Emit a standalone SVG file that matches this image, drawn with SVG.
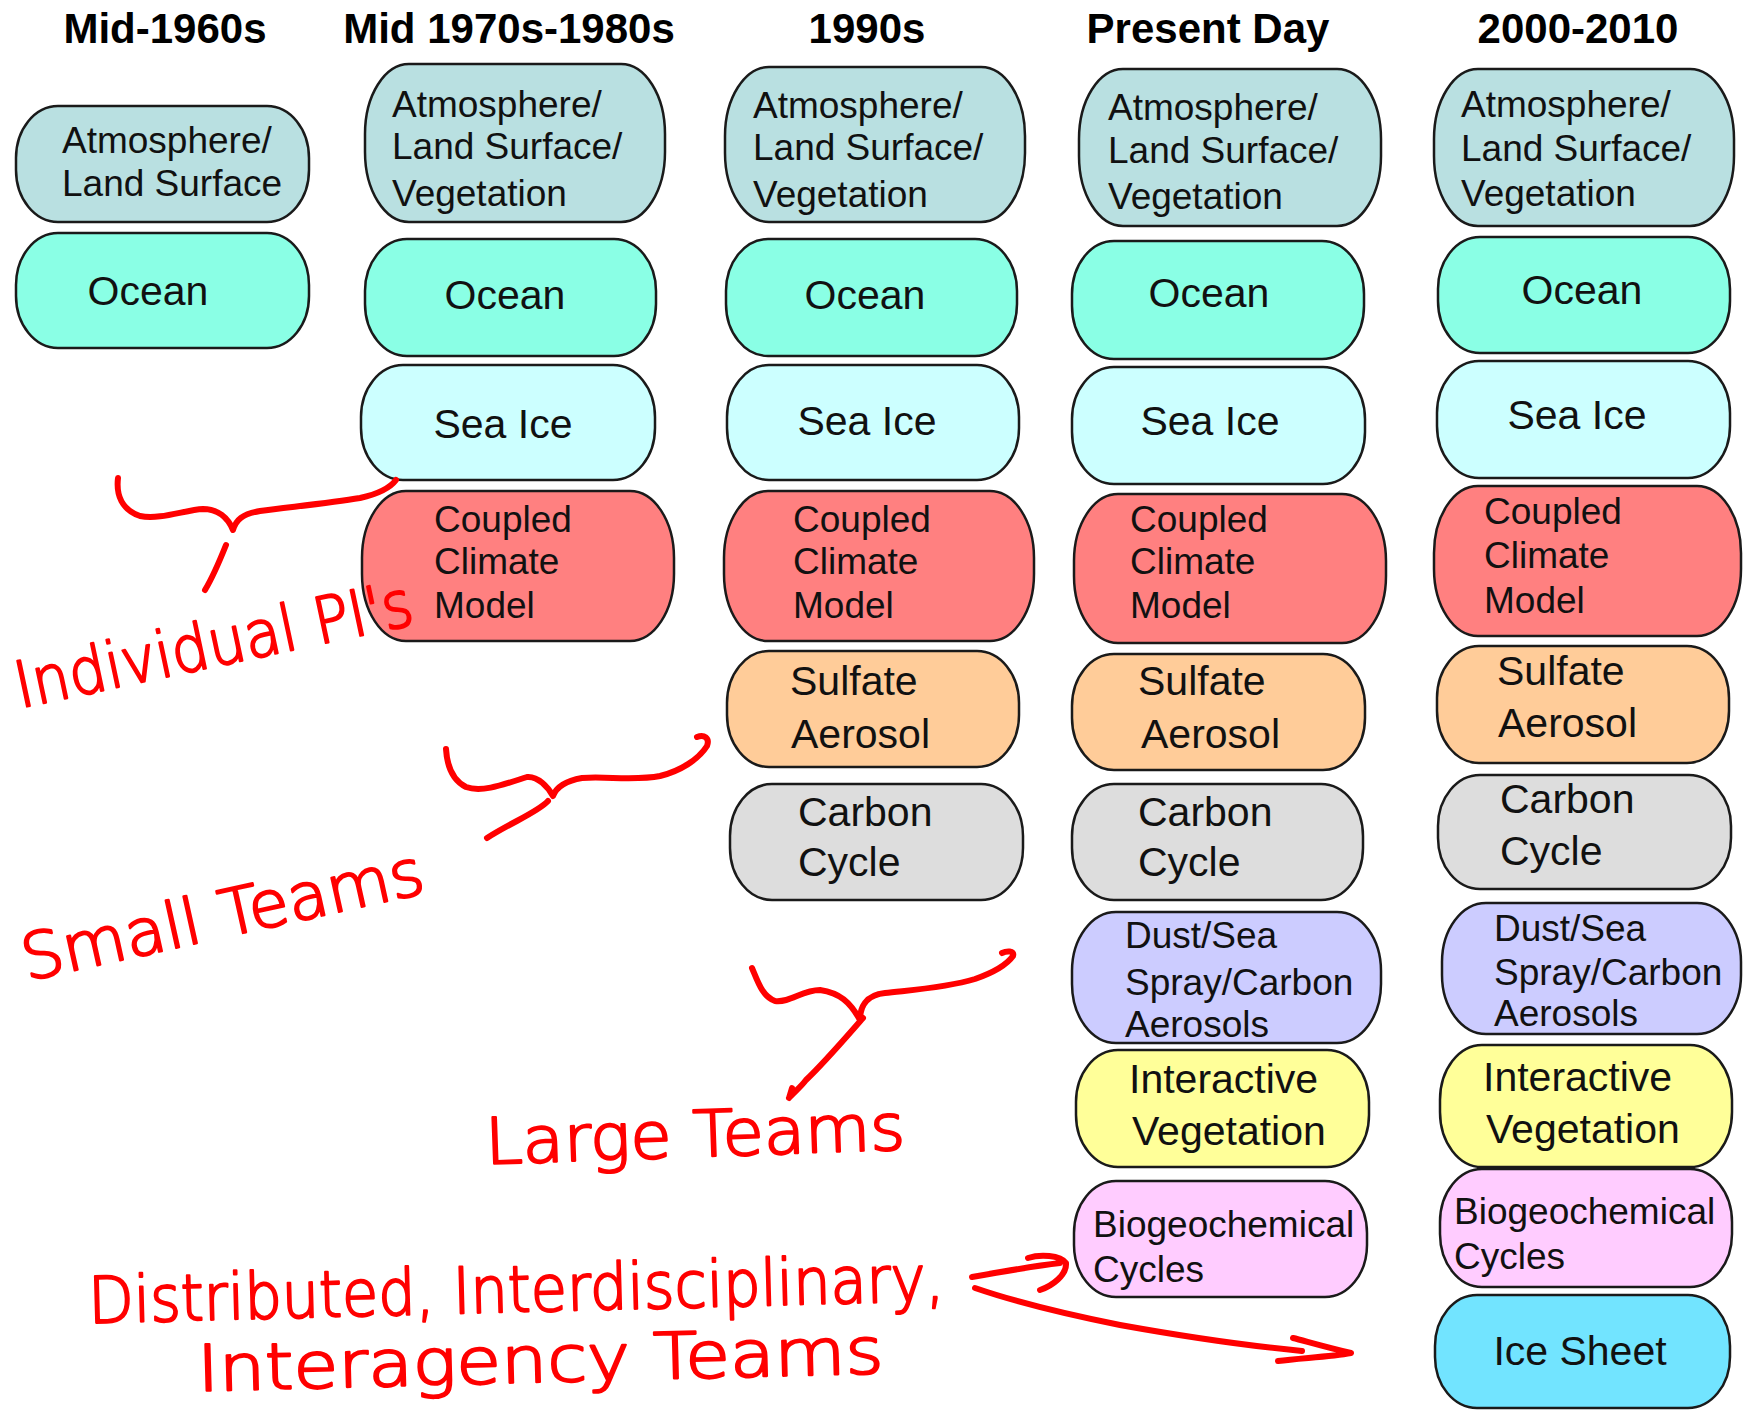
<svg xmlns="http://www.w3.org/2000/svg" width="1743" height="1411" viewBox="0 0 1743 1411">
  <style>
    .title { font-family: "Liberation Sans", Arial, sans-serif; font-weight: bold; font-size: 42px; fill: #000; text-anchor: middle; }
    .box { stroke: #1a1a1a; stroke-width: 2.5; }
    .lbl { font-family: "Liberation Sans", Arial, sans-serif; font-size: 37px; fill: #111; }
    .big { font-family: "Liberation Sans", Arial, sans-serif; font-size: 41px; fill: #111; }
    .mid { text-anchor: middle; }
    .atmos { fill: #B9E0E1; }
    .ocean { fill: #8AFFE5; }
    .seaice { fill: #CCFFFF; }
    .ccm { fill: #FF8080; }
    .sulfate { fill: #FFCC99; }
    .carbon { fill: #DDDDDD; }
    .dust { fill: #CCCCFF; }
    .veg { fill: #FFFF99; }
    .bio { fill: #FFCCFF; }
    .ice { fill: #72E4FF; }
    .ink { fill: none; stroke: #FF0000; stroke-width: 6; stroke-linecap: round; stroke-linejoin: round; }
    .hand { font-family: "DejaVu Sans", "Liberation Sans", sans-serif; font-weight: 200; font-size: 64px; fill: #FF0000; stroke: #FF0000; stroke-width: 2.2; stroke-linejoin: round; }
  </style>

  <rect width="1743" height="1411" fill="#FFFFFF"/>

  <!-- column headings -->
  <g id="headings">
    <text class="title" x="165" y="43">Mid-1960s</text>
    <text class="title" x="509" y="43">Mid 1970s-1980s</text>
    <text class="title" x="867" y="43">1990s</text>
    <text class="title" x="1208" y="43">Present Day</text>
    <text class="title" x="1578" y="43">2000-2010</text>
  </g>

  <!-- Mid-1960s -->
  <g id="c1-atmos">
    <rect class="box atmos" x="16" y="106" width="293" height="116" rx="42" ry="52"/>
    <text class="lbl" x="62" y="153">Atmosphere/</text>
    <text class="lbl" x="62" y="196">Land Surface</text>
  </g>
  <g id="c1-ocean">
    <rect class="box ocean" x="16" y="233" width="293" height="115" rx="42" ry="52"/>
    <text class="big mid" x="148" y="305">Ocean</text>
  </g>

  <!-- Mid 1970s-1980s -->
  <g id="c2-atmos">
    <rect class="box atmos" x="365" y="64" width="300" height="158" rx="44" ry="70"/>
    <text class="lbl" x="392" y="117">Atmosphere/</text>
    <text class="lbl" x="392" y="159">Land Surface/</text>
    <text class="lbl" x="392" y="206">Vegetation</text>
  </g>
  <g id="c2-ocean">
    <rect class="box ocean" x="365" y="239" width="291" height="117" rx="42" ry="52"/>
    <text class="big mid" x="505" y="309">Ocean</text>
  </g>
  <g id="c2-seaice">
    <rect class="box seaice" x="361" y="365" width="294" height="115" rx="42" ry="52"/>
    <text class="big mid" x="503" y="438">Sea Ice</text>
  </g>
  <g id="c2-ccm">
    <rect class="box ccm" x="362" y="491" width="312" height="150" rx="44" ry="67"/>
    <text class="lbl" x="434" y="532">Coupled</text>
    <text class="lbl" x="434" y="574">Climate</text>
    <text class="lbl" x="434" y="618">Model</text>
  </g>

  <!-- 1990s -->
  <g id="c3-atmos">
    <rect class="box atmos" x="725" y="67" width="300" height="155" rx="44" ry="69"/>
    <text class="lbl" x="753" y="118">Atmosphere/</text>
    <text class="lbl" x="753" y="160">Land Surface/</text>
    <text class="lbl" x="753" y="207">Vegetation</text>
  </g>
  <g id="c3-ocean">
    <rect class="box ocean" x="726" y="239" width="291" height="117" rx="42" ry="52"/>
    <text class="big mid" x="865" y="309">Ocean</text>
  </g>
  <g id="c3-seaice">
    <rect class="box seaice" x="727" y="365" width="292" height="115" rx="42" ry="52"/>
    <text class="big mid" x="867" y="435">Sea Ice</text>
  </g>
  <g id="c3-ccm">
    <rect class="box ccm" x="724" y="491" width="310" height="150" rx="44" ry="67"/>
    <text class="lbl" x="793" y="532">Coupled</text>
    <text class="lbl" x="793" y="574">Climate</text>
    <text class="lbl" x="793" y="618">Model</text>
  </g>
  <g id="c3-sulfate">
    <rect class="box sulfate" x="727" y="651" width="292" height="116" rx="42" ry="52"/>
    <text class="big" x="790" y="695">Sulfate</text>
    <text class="big" x="791" y="748">Aerosol</text>
  </g>
  <g id="c3-carbon">
    <rect class="box carbon" x="730" y="784" width="293" height="116" rx="42" ry="52"/>
    <text class="big" x="798" y="826">Carbon</text>
    <text class="big" x="798" y="876">Cycle</text>
  </g>

  <!-- Present Day -->
  <g id="c4-atmos">
    <rect class="box atmos" x="1079" y="69" width="302" height="157" rx="44" ry="70"/>
    <text class="lbl" x="1108" y="120">Atmosphere/</text>
    <text class="lbl" x="1108" y="163">Land Surface/</text>
    <text class="lbl" x="1108" y="209">Vegetation</text>
  </g>
  <g id="c4-ocean">
    <rect class="box ocean" x="1072" y="241" width="292" height="118" rx="42" ry="53"/>
    <text class="big mid" x="1209" y="307">Ocean</text>
  </g>
  <g id="c4-seaice">
    <rect class="box seaice" x="1072" y="367" width="293" height="117" rx="42" ry="52"/>
    <text class="big mid" x="1210" y="435">Sea Ice</text>
  </g>
  <g id="c4-ccm">
    <rect class="box ccm" x="1074" y="494" width="312" height="149" rx="44" ry="67"/>
    <text class="lbl" x="1130" y="532">Coupled</text>
    <text class="lbl" x="1130" y="574">Climate</text>
    <text class="lbl" x="1130" y="618">Model</text>
  </g>
  <g id="c4-sulfate">
    <rect class="box sulfate" x="1072" y="654" width="293" height="116" rx="42" ry="52"/>
    <text class="big" x="1138" y="695">Sulfate</text>
    <text class="big" x="1141" y="748">Aerosol</text>
  </g>
  <g id="c4-carbon">
    <rect class="box carbon" x="1072" y="784" width="291" height="116" rx="42" ry="52"/>
    <text class="big" x="1138" y="826">Carbon</text>
    <text class="big" x="1138" y="876">Cycle</text>
  </g>
  <g id="c4-dust">
    <rect class="box dust" x="1072" y="912" width="309" height="131" rx="44" ry="59"/>
    <text class="lbl" x="1125" y="948">Dust/Sea</text>
    <text class="lbl" x="1125" y="995">Spray/Carbon</text>
    <text class="lbl" x="1125" y="1037">Aerosols</text>
  </g>
  <g id="c4-veg">
    <rect class="box veg" x="1076" y="1050" width="293" height="117" rx="42" ry="52"/>
    <text class="big" x="1129" y="1093">Interactive</text>
    <text class="big" x="1132" y="1145">Vegetation</text>
  </g>
  <g id="c4-bio">
    <rect class="box bio" x="1074" y="1181" width="293" height="116" rx="42" ry="52"/>
    <text class="lbl" x="1093" y="1237">Biogeochemical</text>
    <text class="lbl" x="1093" y="1282">Cycles</text>
  </g>

  <!-- 2000-2010 -->
  <g id="c5-atmos">
    <rect class="box atmos" x="1434" y="69" width="300" height="157" rx="44" ry="70"/>
    <text class="lbl" x="1461" y="117">Atmosphere/</text>
    <text class="lbl" x="1461" y="161">Land Surface/</text>
    <text class="lbl" x="1461" y="206">Vegetation</text>
  </g>
  <g id="c5-ocean">
    <rect class="box ocean" x="1438" y="237" width="292" height="116" rx="42" ry="52"/>
    <text class="big mid" x="1582" y="304">Ocean</text>
  </g>
  <g id="c5-seaice">
    <rect class="box seaice" x="1437" y="361" width="293" height="117" rx="42" ry="52"/>
    <text class="big mid" x="1577" y="429">Sea Ice</text>
  </g>
  <g id="c5-ccm">
    <rect class="box ccm" x="1434" y="486" width="307" height="150" rx="44" ry="67"/>
    <text class="lbl" x="1484" y="524">Coupled</text>
    <text class="lbl" x="1484" y="568">Climate</text>
    <text class="lbl" x="1484" y="613">Model</text>
  </g>
  <g id="c5-sulfate">
    <rect class="box sulfate" x="1437" y="646" width="292" height="117" rx="42" ry="52"/>
    <text class="big" x="1497" y="685">Sulfate</text>
    <text class="big" x="1498" y="737">Aerosol</text>
  </g>
  <g id="c5-carbon">
    <rect class="box carbon" x="1438" y="775" width="293" height="114" rx="42" ry="51"/>
    <text class="big" x="1500" y="813">Carbon</text>
    <text class="big" x="1500" y="865">Cycle</text>
  </g>
  <g id="c5-dust">
    <rect class="box dust" x="1442" y="903" width="299" height="131" rx="44" ry="59"/>
    <text class="lbl" x="1494" y="941">Dust/Sea</text>
    <text class="lbl" x="1494" y="985">Spray/Carbon</text>
    <text class="lbl" x="1494" y="1026">Aerosols</text>
  </g>
  <g id="c5-veg">
    <rect class="box veg" x="1440" y="1045" width="292" height="122" rx="42" ry="55"/>
    <text class="big" x="1483" y="1091">Interactive</text>
    <text class="big" x="1486" y="1143">Vegetation</text>
  </g>
  <g id="c5-bio">
    <rect class="box bio" x="1440" y="1169" width="292" height="118" rx="42" ry="53"/>
    <text class="lbl" x="1454" y="1224">Biogeochemical</text>
    <text class="lbl" x="1454" y="1269">Cycles</text>
  </g>
  <g id="c5-icesheet">
    <rect class="box ice" x="1435" y="1295" width="295" height="113" rx="42" ry="51"/>
    <text class="big mid" x="1580" y="1365">Ice Sheet</text>
  </g>

  <!-- hand-drawn braces and arrows -->
  <g id="connectors">
    <path class="ink" d="M118,478 C116,495 122,510 140,516 C160,520 185,510 203,509 C218,509 228,518 233,530 C236,520 242,514 260,511 C290,507 330,503 360,498 C378,494 390,488 396,480"/>
    <path class="ink" d="M226,545 C222,555 214,575 205,590"/>

    <path class="ink" d="M446,749 C447,765 452,780 466,787 C482,793 505,784 527,777 C538,776 548,787 553,796 C556,788 565,781 582,778 C605,776 635,781 660,776 C680,771 698,760 707,746 C710,738 704,734 697,737"/>
    <path class="ink" d="M548,801 C538,812 512,822 487,838"/>

    <path class="ink" d="M752,968 C758,982 762,996 775,1001 C790,1003 802,990 820,990 C840,993 850,1002 860,1020 C860,1008 865,995 885,993 C910,990 945,988 975,979 C995,972 1008,963 1013,956 C1015,950 1006,951 1002,953"/>
    <path class="ink" d="M863,1018 C848,1035 825,1062 806,1080 C800,1088 793,1093 789,1098 M789,1098 L792,1088"/>

    <path class="ink" d="M972,1277 C1000,1272 1035,1266 1060,1263 M1028,1258 C1040,1254 1060,1255 1066,1263 C1067,1275 1052,1286 1040,1290"/>
    <path class="ink" d="M975,1288 C1010,1300 1060,1313 1120,1325 C1170,1334 1240,1345 1302,1351 M1293,1338 C1305,1341 1325,1347 1351,1353 C1330,1357 1300,1358 1278,1361"/>
  </g>

  <!-- handwritten notes -->
  <g id="notes">
    <text class="hand" transform="translate(20,708) rotate(-12)" textLength="405" lengthAdjust="spacingAndGlyphs">Individual PI's</text>
    <text class="hand" transform="translate(27,981) rotate(-12.5)" textLength="410" lengthAdjust="spacingAndGlyphs">Small Teams</text>
    <text class="hand" transform="translate(486,1164) rotate(-2)" textLength="420" lengthAdjust="spacingAndGlyphs">Large Teams</text>
    <text class="hand" transform="translate(89,1323) rotate(-1.5)" textLength="856" lengthAdjust="spacingAndGlyphs">Distributed, Interdisciplinary,</text>
    <text class="hand" transform="translate(198,1391) rotate(-1.5)" textLength="686" lengthAdjust="spacingAndGlyphs">Interagency Teams</text>
  </g>
</svg>
